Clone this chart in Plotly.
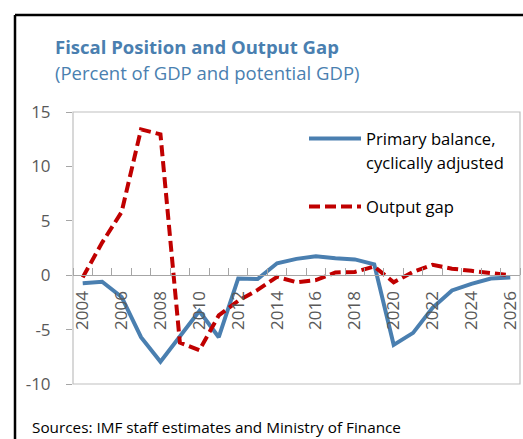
import plotly.graph_objects as go

years = list(range(2004, 2027))
primary_balance_ca = [-0.75, -0.6, -2.0, -5.7, -7.95, -5.6, -3.3, -5.7, -0.3, -0.35,
                      1.1, 1.5, 1.75, 1.55, 1.45, 1.0, -6.4, -5.3, -3.0, -1.4,
                      -0.8, -0.3, -0.2]
output_gap = [-0.2, 3.0, 5.8, 13.4, 12.95, -6.2, -6.9, -3.7, -2.35, -1.35,
              -0.15, -0.65, -0.45, 0.25, 0.3, 0.8, -0.65, 0.3, 0.95, 0.6,
              0.4, 0.22, 0.0]
x_tick_labels = [str(y) for y in years if y % 2 == 0]
y_tick_values = [-10, -5, 0, 5, 10, 15]
y_tick_labels = ["-10", "-5", "0", "5", "10", "15"]

title = "Fiscal Position and Output Gap"
subtitle = "(Percent of GDP and potential GDP)"
source = "Sources: IMF staff estimates and Ministry of Finance"
legend_names = ["Primary balance,", "cyclically adjusted", "Output gap"]

BLUE = "#4A7FB0"
RED = "#C00000"
GRAY_TXT = "#595959"
FONT = "Open Sans"

W, H = 523, 439
ML, MR, MT, MB = 73, 3, 112, 55
PW, PH = W - ML - MR, H - MT - MB


def px(x):
    return (x - ML) / PW


def py(y):
    return (H - MB - y) / PH


fig = go.Figure()
fig.add_trace(go.Scatter(x=years, y=primary_balance_ca, mode="lines",
                         line=dict(color=BLUE, width=4), showlegend=False))
fig.add_trace(go.Scatter(x=years, y=output_gap, mode="lines",
                         line=dict(color=RED, width=4, dash="11px,5px"),
                         showlegend=False))

ymin, ymax = -10, 15
fig.update_layout(
    width=W, height=H,
    margin=dict(l=ML, r=MR, t=MT, b=MB),
    paper_bgcolor="white", plot_bgcolor="white",
    font=dict(family=FONT, color=GRAY_TXT),
    xaxis=dict(
        range=[years[0] - 0.5, years[-1] + 0.5],
        tickmode="array",
        tickvals=[int(t) for t in x_tick_labels],
        ticktext=x_tick_labels,
        tickangle=-90,
        ticks="", showgrid=False, zeroline=False,
        showline=True, linecolor="#A6A6A6", linewidth=1,
        anchor="free", position=(0 - ymin) / (ymax - ymin),
        tickfont=dict(size=17, color=GRAY_TXT, family=FONT),
        ticklabelstandoff=8,
        minor=dict(tickmode="array",
                   tickvals=[y - 0.5 for y in years] + [years[-1] + 0.5],
                   ticks="inside", ticklen=7, tickcolor="#A6A6A6",
                   showgrid=False),
    ),
    yaxis=dict(
        range=[ymin, ymax],
        tickmode="array", tickvals=y_tick_values, ticktext=y_tick_labels,
        ticks="outside", ticklen=6, tickcolor="#A6A6A6",
        showgrid=False, zeroline=False, showline=False,
        tickfont=dict(size=17, color=GRAY_TXT, family=FONT),
        ticklabelstandoff=12,
    ),
)

shapes = [
    dict(type="rect", xref="paper", yref="paper", x0=0, x1=1, y0=0, y1=1,
         line=dict(color="#BFBFBF", width=1.2), fillcolor="rgba(0,0,0,0)", layer="below"),
    dict(type="line", xref="paper", yref="paper", x0=px(15), x1=px(W + 5), y0=py(15), y1=py(15),
         line=dict(color="black", width=2.5)),
    dict(type="line", xref="paper", yref="paper", x0=px(15), x1=px(15), y0=py(15), y1=py(H + 5),
         line=dict(color="black", width=2.5)),
    dict(type="line", xref="paper", yref="paper", x0=px(309), x1=px(361), y0=py(138.5), y1=py(138.5),
         line=dict(color=BLUE, width=4)),
    dict(type="line", xref="paper", yref="paper", x0=px(309), x1=px(361), y0=py(206.5), y1=py(206.5),
         line=dict(color=RED, width=4, dash="11px,5px")),
]
fig.update_layout(shapes=shapes)

annotations = [
    dict(text="<b>" + title + "</b>", x=px(53), y=py(46), xanchor="left", yanchor="middle",
         font=dict(size=18.5, color=BLUE, family=FONT)),
    dict(text=subtitle, x=px(53), y=py(72), xanchor="left", yanchor="middle",
         font=dict(size=18.5, color=BLUE, family=FONT)),
    dict(text=source, x=px(30), y=py(427), xanchor="left", yanchor="middle",
         font=dict(size=15.3, color="black", family=FONT)),
    dict(text=legend_names[0], x=px(364), y=py(138), xanchor="left", yanchor="middle",
         font=dict(size=16.6, color="black", family=FONT)),
    dict(text=legend_names[1], x=px(364), y=py(162), xanchor="left", yanchor="middle",
         font=dict(size=16.6, color="black", family=FONT)),
    dict(text=legend_names[2], x=px(364), y=py(206), xanchor="left", yanchor="middle",
         font=dict(size=16.6, color="black", family=FONT)),
]
for a in annotations:
    a.update(xref="paper", yref="paper", showarrow=False)
fig.update_layout(annotations=annotations)

fig.write_html("out.html",
               config={"displayModeBar": False},
               post_script="document.body.style.margin='0';document.body.style.overflow='hidden';")
